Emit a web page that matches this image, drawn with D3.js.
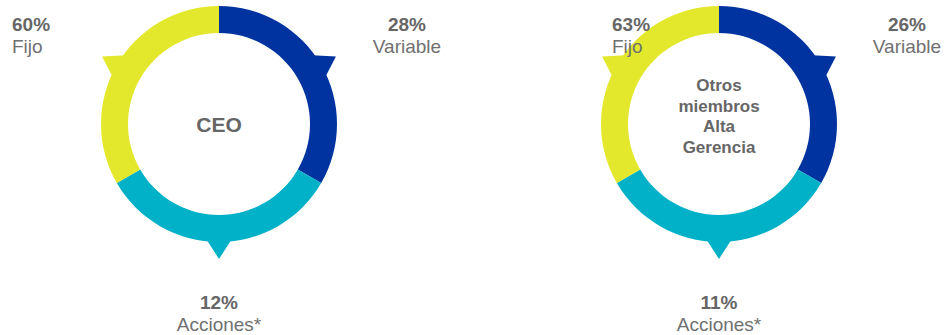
<!DOCTYPE html>
<html>
<head>
<meta charset="utf-8">
<script src="https://cdn.jsdelivr.net/npm/d3@7"></script>
<style>
  html, body { margin: 0; padding: 0; background: #fff; }
  svg { display: block; }
</style>
</head>
<body>
<div id="chart"></div>
<script>
// Data
const categories = ['Variable', 'Acciones*', 'Fijo'];
const groups = ['CEO', 'Otros miembros Alta Gerencia'];
const centerLines = [['CEO'], ['Otros', 'miembros', 'Alta', 'Gerencia']];
const ceoValues = [28, 12, 60];
const otrosValues = [26, 11, 63];
const colors = ['#0033a0', '#00b1c8', '#e4e82c'];

const width = 944, height = 335;
const outerR = 118, innerR = 91, tipR = 135;

const svg = d3.select('#chart').append('svg')
  .attr('width', width)
  .attr('height', height);

const fontFamily = '"Liberation Sans", Arial, sans-serif';

// The ring is split in three equal parts, the values only go in the labels
const pie = d3.pie().value(() => 1).sort(null);
const arc = d3.arc().innerRadius(innerR).outerRadius(outerR);

const xCenter = d3.scalePoint().domain(groups).range([219, 719]);
const cy = 124;

function drawDonut(group, values, lines) {
  const cx = xCenter(group);
  const g = svg.append('g').attr('transform', `translate(${cx},${cy})`);
  const slices = pie(categories);

  g.selectAll('path.arc')
    .data(slices)
    .enter().append('path')
    .attr('class', 'arc')
    .attr('d', arc)
    .attr('fill', (d, i) => colors[i]);

  // little triangle pointing out of each segment
  g.selectAll('path.tip')
    .data(slices)
    .enter().append('path')
    .attr('class', 'tip')
    .attr('fill', (d, i) => colors[i])
    .attr('d', d => {
      const mid = (d.startAngle + d.endAngle) / 2;
      const half = 6.3 * Math.PI / 180;
      const a = d3.pointRadial(mid - half, outerR - 2);
      const b = d3.pointRadial(mid, tipR);
      const c = d3.pointRadial(mid + half, outerR - 2);
      return `M${a}L${b}L${c}Z`;
    });

  // center text (multi-line block sits a bit above the middle)
  const lh = 20.5;
  const multi = lines.length > 1;
  const fs = multi ? 17 : 21;
  const shift = multi ? -8 : 0;
  const t = g.append('text')
    .attr('text-anchor', 'middle')
    .attr('font-family', fontFamily)
    .attr('font-weight', 'bold')
    .attr('font-size', fs + 'px')
    .attr('fill', '#666');
  lines.forEach((s, i) => {
    t.append('tspan')
      .attr('x', 0)
      .attr('y', (i - (lines.length - 1) / 2) * lh + fs * 0.36 + shift)
      .text(s);
  });

  // outer labels
  const labelPos = [
    { x: cx + 188, y: 31, anchor: 'middle' },
    { x: cx, y: 309, anchor: 'middle' },
    { x: group === 'CEO' ? 12 : 612, y: 31, anchor: 'start' }
  ];
  categories.forEach((cat, i) => {
    const p = labelPos[i];
    const lab = svg.append('text')
      .attr('text-anchor', p.anchor)
      .attr('font-family', fontFamily)
      .attr('font-size', '19px');
    lab.append('tspan')
      .attr('x', p.x).attr('y', p.y)
      .attr('font-weight', 'bold')
      .attr('fill', '#666')
      .text(values[i] + '%');
    lab.append('tspan')
      .attr('x', p.x).attr('y', p.y + 22)
      .attr('fill', '#707070')
      .text(cat);
  });
}

drawDonut(groups[0], ceoValues, centerLines[0]);
drawDonut(groups[1], otrosValues, centerLines[1]);
</script>
</body>
</html>
